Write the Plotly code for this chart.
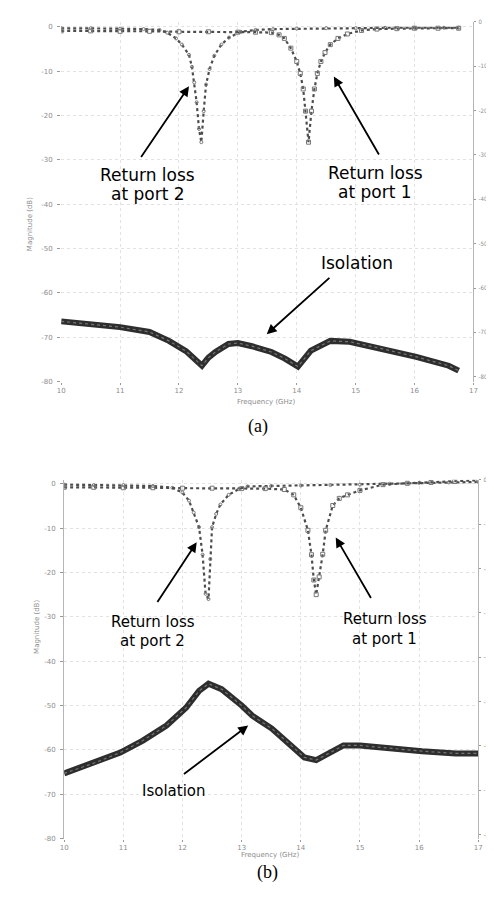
import plotly.graph_objects as go

# ---------------- data (a) ----------------
a_rl2_f = [10.0, 10.5, 11.0, 11.4, 11.67, 11.8, 11.95, 12.05, 12.17, 12.22, 12.26, 12.3, 12.34, 12.38,
           12.42, 12.46, 12.52, 12.6, 12.72, 12.85, 13.05, 13.3, 13.6, 14.0, 14.5, 15.0, 15.5, 16.0, 16.5, 16.75]
a_rl2_db = [-0.3, -0.3, -0.4, -0.5, -0.7, -1.3, -2.6, -4.0, -6.3, -9.0, -12.5, -17, -23, -26,
            -19, -13, -9.5, -6.5, -4.0, -2.4, -1.1, -0.7, -0.5, -0.4, -0.3, -0.3, -0.2, -0.2, -0.2, -0.2]

a_rl1_f = [10.0, 10.5, 11.0, 11.5, 12.0, 12.5, 13.0, 13.3, 13.57, 13.7, 13.79, 13.9, 14.0, 14.06, 14.11,
           14.15, 14.2, 14.25, 14.3, 14.35, 14.41, 14.48, 14.57, 14.7, 14.86, 15.1, 15.36, 15.7, 16.0, 16.4, 16.75]
a_rl1_db = [-0.9, -0.9, -1.0, -1.0, -1.1, -1.1, -1.2, -1.2, -1.3, -1.8, -2.6, -4.8, -7.8, -10.5, -14,
            -19, -26, -19, -14, -10.5, -7.8, -5.8, -4.0, -2.6, -1.6, -0.8, -0.5, -0.4, -0.3, -0.3, -0.3]

a_iso_f = [10.0, 10.5, 11.0, 11.5, 11.83, 12.12, 12.25, 12.39, 12.5, 12.62, 12.84, 13.0, 13.24, 13.57,
           13.8, 14.02, 14.24, 14.57, 14.9, 15.46, 16.03, 16.58, 16.75]
a_iso_db = [-66.4, -67.0, -67.7, -68.8, -70.8, -73.1, -74.8, -76.4, -74.6, -73.3, -71.5, -71.3, -72.0, -73.3,
            -74.8, -76.6, -73.0, -70.8, -71.0, -72.6, -74.4, -76.4, -77.5]

# ---------------- data (b) ----------------
b_rl2_f = [10.0, 10.5, 11.0, 11.5, 11.83, 12.0, 12.11, 12.19, 12.28, 12.34, 12.39, 12.44, 12.47, 12.5,
           12.57, 12.64, 12.78, 12.95, 13.1, 13.5, 14.0, 14.5, 15.0, 15.5, 16.0, 16.5, 17.0]
b_rl2_db = [-0.2, -0.3, -0.3, -0.5, -0.9, -2.0, -3.8, -6.5, -9.8, -16, -24.8, -26, -17, -9.8,
            -6.8, -4.7, -2.5, -1.2, -0.6, -0.5, -0.4, -0.3, -0.2, 0.0, 0.2, 0.3, 0.4]

b_rl1_f = [10.0, 10.5, 11.0, 11.5, 12.0, 12.5, 13.0, 13.4, 13.72, 13.88, 14.0, 14.12, 14.18, 14.22, 14.26,
           14.31, 14.37, 14.42, 14.54, 14.65, 14.79, 15.0, 15.39, 15.8, 16.2, 16.6, 17.0]
b_rl1_db = [-0.8, -0.8, -0.9, -0.9, -1.0, -1.0, -1.1, -1.1, -1.3, -2.5, -5.4, -10.5, -16, -21.7, -25,
            -21, -15.9, -10.5, -4.9, -3.3, -2.5, -1.5, -0.2, 0.1, 0.3, 0.5, 0.8]

b_iso_f = [10.0, 10.5, 10.95, 11.33, 11.73, 12.06, 12.28, 12.44, 12.66, 13.0, 13.18, 13.51, 13.84, 14.06,
           14.26, 14.51, 14.72, 15.0, 15.5, 16.05, 16.62, 17.0]
b_iso_db = [-65.3, -63.0, -60.6, -57.9, -54.5, -50.5, -46.7, -45.1, -46.3, -50.0, -52.3, -55.2, -59.0, -61.7,
            -62.3, -60.6, -59.0, -59.0, -59.7, -60.3, -60.8, -60.8]

# ---------------- axis ticks ----------------
x_ticks = [10, 11, 12, 13, 14, 15, 16, 17]
x_labels = ["10", "11", "12", "13", "14", "15", "16", "17"]
y_ticks = [0, -10, -20, -30, -40, -50, -60, -70, -80]
y_labels = ["0", "-10", "-20", "-30", "-40", "-50", "-60", "-70", "-80"]

W, H = 494, 900
def px_x(p):
    return p / W
def px_y(p):
    return 1 - p / H

RL_COLOR = "#4d4d4d"
ISO_COLOR = "#2e2e2e"
TICK_FONT = dict(family="DejaVu Sans", size=7, color="#8c8c8c")
RTICK_FONT = dict(family="DejaVu Sans Condensed", size=6, color="#8c8c8c")

fig = go.Figure()

def add_panel(xa, ya, f2, d2, f1, d1, fi, di):
    fig.add_trace(go.Scatter(x=f2, y=d2, xaxis=xa, yaxis=ya, mode="lines+markers",
                             line=dict(color=RL_COLOR, width=2.2, dash="dot"),
                             marker=dict(symbol="circle-open", size=3, color="#777", line=dict(width=1)),
                             showlegend=False))
    fig.add_trace(go.Scatter(x=f1, y=d1, xaxis=xa, yaxis=ya, mode="lines+markers",
                             line=dict(color=RL_COLOR, width=2.2, dash="dot"),
                             marker=dict(symbol="square-open", size=4, color="#777", line=dict(width=1)),
                             showlegend=False))
    fig.add_trace(go.Scatter(x=fi, y=di, xaxis=xa, yaxis=ya, mode="lines",
                             line=dict(color=ISO_COLOR, width=6),
                             showlegend=False))
    fig.add_trace(go.Scatter(x=fi, y=di, xaxis=xa, yaxis=ya, mode="lines",
                             line=dict(color="#777", width=1.2, dash="dot"),
                             showlegend=False))

add_panel("x", "y", a_rl2_f, a_rl2_db, a_rl1_f, a_rl1_db, a_iso_f, a_iso_db)
add_panel("x2", "y3", b_rl2_f, b_rl2_db, b_rl1_f, b_rl1_db, b_iso_f, b_iso_db)

grid = dict(showgrid=True, gridcolor="#e2e2e2", griddash="dot", gridwidth=1, zeroline=False)
xcommon = dict(tickvals=x_ticks, ticktext=x_labels, range=[10, 17], ticks="outside", ticklen=2,
               tickcolor="#999", tickfont=TICK_FONT, showline=False, ticklabelstandoff=0, **grid)
ycommon = dict(tickvals=y_ticks, ticktext=y_labels, ticks="outside", ticklen=3, tickcolor="#999",
               tickfont=TICK_FONT, ticklabelstandoff=3, **grid)
yright = dict(tickvals=y_ticks, ticktext=y_labels, ticks="outside", ticklen=2, tickcolor="#999",
              tickfont=RTICK_FONT, showgrid=False, zeroline=False, showline=True,
              linecolor="#b5b5b5", linewidth=1, ticklabelstandoff=1)

fig.update_layout(
    width=W, height=H, margin=dict(l=0, r=0, t=0, b=0),
    paper_bgcolor="white", plot_bgcolor="white", showlegend=False,
    xaxis=dict(domain=[px_x(50), px_x(469)], anchor="y", **xcommon),
    yaxis=dict(domain=[px_y(373), px_y(10)], anchor="x", range=[-80, 1.12], showline=False, **ycommon),
    yaxis2=dict(overlaying="y", side="right", anchor="x", range=[-81.12, 0], **yright),
    xaxis2=dict(domain=[px_x(53), px_x(474)], anchor="y3", **xcommon),
    yaxis3=dict(domain=[px_y(834), px_y(472)], anchor="x2", range=[-80, 0.89], showline=True,
                linecolor="#b5b5b5", linewidth=1, **ycommon),
    yaxis4=dict(overlaying="y3", side="right", anchor="x2", range=[-80.89, 0], **yright),
)
# empty traces so the secondary axes render
fig.add_trace(go.Scatter(x=[None], y=[None], xaxis="x", yaxis="y2", showlegend=False))
fig.add_trace(go.Scatter(x=[None], y=[None], xaxis="x2", yaxis="y4", showlegend=False))

LBL_A = dict(family="DejaVu Sans", size=17, color="black")
LBL_B = dict(family="DejaVu Sans", size=15, color="black")

def arrow(xr, yr, x, y, ax, ay):
    fig.add_annotation(xref=xr, yref=yr, axref=xr, ayref=yr, x=x, y=y, ax=ax, ay=ay, text="",
                       showarrow=True, arrowhead=2, arrowsize=1.1, arrowwidth=1.8, arrowcolor="black")

def label(xr, yr, x, y, t, font):
    fig.add_annotation(xref=xr, yref=yr, x=x, y=y, text=t, showarrow=False, font=font,
                       align="center", xanchor="center", yanchor="middle")

# panel (a)
arrow("x", "y", 12.17, -13.4, 11.34, -29.7)
arrow("x", "y", 14.63, -11.2, 15.41, -29.1)
arrow("x", "y", 13.49, -69.3, 14.58, -56.3)
label("x", "y", 11.47, -33.5, "Return loss", LBL_A)
label("x", "y", 11.47, -37.6, "at port 2", LBL_A)
label("x", "y", 15.33, -32.9, "Return loss", LBL_A)
label("x", "y", 15.33, -37.3, "at port 1", LBL_A)
label("x", "y", 15.03, -53.2, "Isolation", LBL_A)

# panel (b)
arrow("x2", "y3", 12.24, -13.2, 11.56, -27.0)
arrow("x2", "y3", 14.59, -12.1, 15.2, -26.1)
arrow("x2", "y3", 13.11, -54.5, 12.0, -65.7)
label("x2", "y3", 11.5, -31.1, "Return loss", LBL_B)
label("x2", "y3", 11.5, -35.4, "at port 2", LBL_B)
label("x2", "y3", 15.42, -30.5, "Return loss", LBL_B)
label("x2", "y3", 15.42, -35.1, "at port 1", LBL_B)
label("x2", "y3", 11.86, -69.3, "Isolation", LBL_B)

# axis titles and captions
SMALL = dict(family="DejaVu Sans", size=7, color="#8c8c8c")
fig.add_annotation(xref="paper", yref="paper", x=px_x(13), y=px_y(185), text="Magnitude (dB)",
                   textangle=-90, showarrow=False, font=SMALL)
fig.add_annotation(xref="paper", yref="paper", x=px_x(20), y=px_y(650), text="Magnitude (dB)",
                   textangle=-90, showarrow=False, font=SMALL)
fig.add_annotation(xref="paper", yref="paper", x=px_x(258), y=px_y(394), text="Frequency (GHz)",
                   showarrow=False, font=SMALL)
fig.add_annotation(xref="paper", yref="paper", x=px_x(262), y=px_y(857), text="Frequency (GHz)",
                   showarrow=False, font=SMALL)
CAP = dict(family="Liberation Serif", size=18, color="black")
fig.add_annotation(xref="paper", yref="paper", x=px_x(250), y=px_y(418), text="(a)",
                   showarrow=False, font=CAP)
fig.add_annotation(xref="paper", yref="paper", x=px_x(260), y=px_y(881), text="(b)",
                   showarrow=False, font=CAP)

fig.write_html("out.html")
